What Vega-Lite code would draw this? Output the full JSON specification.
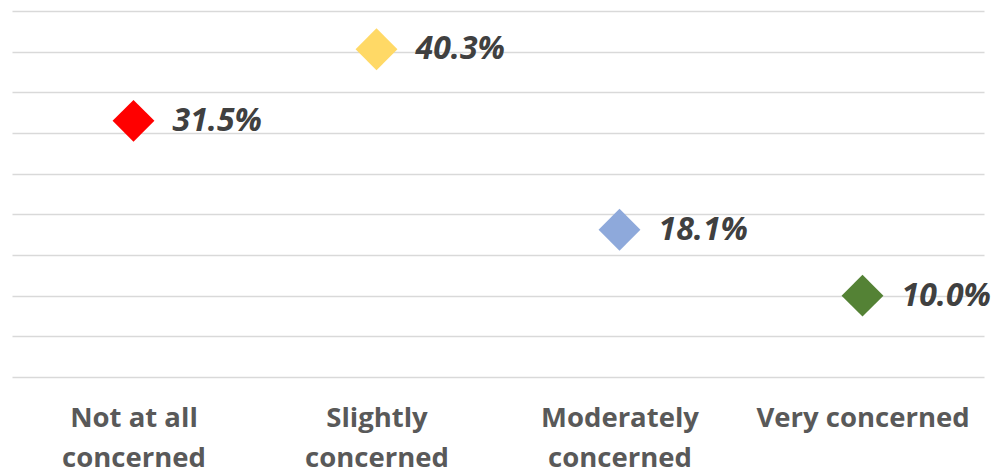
{
  "$schema": "https://vega.github.io/schema/vega-lite/v6.json",
  "autosize": "none",
  "width": 972,
  "height": 366,
  "padding": {"left": 12, "top": 11, "right": 15, "bottom": 95},
  "background": "white",
  "data": {
    "values": [
      {"category": "Not at all concerned", "share": 0.315},
      {"category": "Slightly concerned", "share": 0.403},
      {"category": "Moderately concerned", "share": 0.181},
      {"category": "Very concerned", "share": 0.100}
    ]
  },
  "config": {"view": {"stroke": null}},
  "encoding": {
    "x": {
      "field": "category",
      "type": "nominal",
      "sort": null,
      "scale": {"type": "point", "padding": 0.5},
      "axis": {
        "title": null,
        "domain": false,
        "ticks": false,
        "grid": false,
        "labelAngle": 0,
        "labelFont": "Open Sans",
        "labelFontWeight": "bold",
        "labelFontSize": 27.5,
        "labelColor": "#595959",
        "labelPadding": 27,
        "labelLineHeight": 40,
        "labelLimit": 400,
        "labelBaseline": "top",
        "labelExpr": "datum.label == 'Not at all concerned' ? ['Not at all', 'concerned'] : datum.label == 'Slightly concerned' ? ['Slightly', 'concerned'] : datum.label == 'Moderately concerned' ? ['Moderately', 'concerned'] : datum.label"
      }
    },
    "y": {
      "field": "share",
      "type": "quantitative",
      "scale": {"domain": [0, 0.45], "nice": false, "zero": true},
      "axis": {
        "title": null,
        "labels": false,
        "ticks": false,
        "domain": false,
        "values": [0, 0.05, 0.1, 0.15, 0.2, 0.25, 0.3, 0.35, 0.4, 0.45],
        "gridColor": "#D9D9D9",
        "gridWidth": 1.5
      }
    }
  },
  "layer": [
    {
      "mark": {"type": "point", "shape": "diamond", "filled": true, "opacity": 1, "size": 1750},
      "encoding": {
        "color": {
          "field": "category",
          "type": "nominal",
          "scale": {
            "domain": ["Not at all concerned", "Slightly concerned", "Moderately concerned", "Very concerned"],
            "range": ["#FF0000", "#FFD966", "#8EA9DB", "#548235"]
          },
          "legend": null
        }
      }
    },
    {
      "mark": {
        "type": "text",
        "align": "left",
        "baseline": "middle",
        "dx": 39,
        "dy": 0,
        "font": "Open Sans",
        "fontWeight": "bold",
        "fontStyle": "italic",
        "fontSize": 32,
        "color": "#404040"
      },
      "encoding": {
        "text": {"field": "share", "type": "quantitative", "format": ".1%"}
      }
    }
  ]
}
